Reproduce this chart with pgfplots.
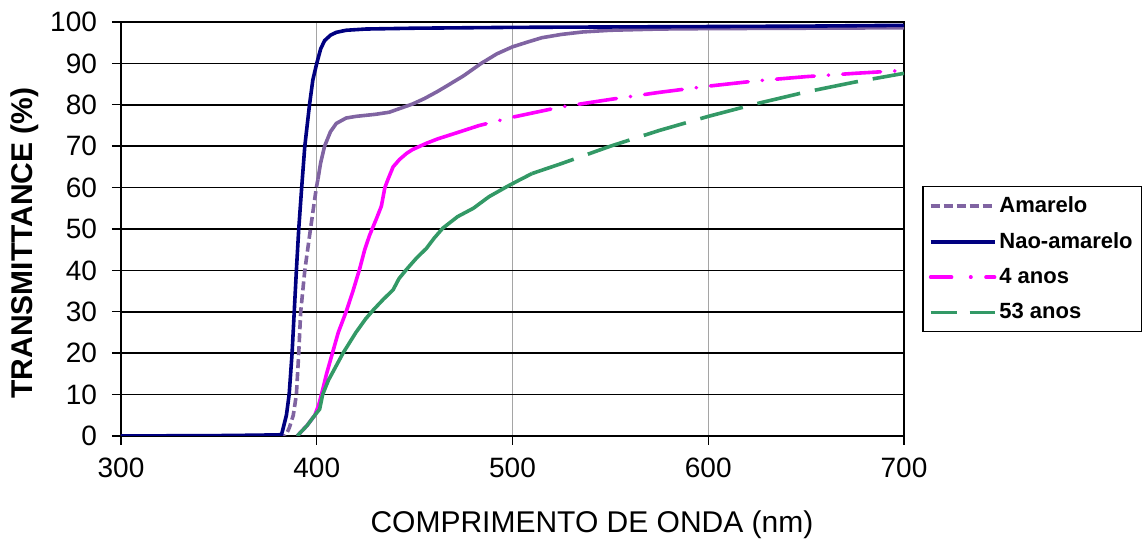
\documentclass[border=0pt]{standalone}
\usepackage{fontspec}
\setmainfont{Liberation Sans}
\usepackage{pgfplots}
\pgfplotsset{compat=1.18}
\definecolor{navyline}{RGB}{0,0,128}
\definecolor{amarelo}{RGB}{128,100,162}
\definecolor{quatro}{RGB}{255,0,255}
\definecolor{cinquenta}{RGB}{51,153,102}
\definecolor{vgrid}{RGB}{165,165,165}
\pgfplotsset{
  qleg/.style={legend image code/.code={\draw[##1, dash pattern=on 10.5pt off 9.5pt on 0.2pt off 7.5pt] (0pt,0pt) -- (32pt,0pt);}},
  cleg/.style={legend image code/.code={\draw[##1, dash pattern=on 13pt off 6.5pt] (0pt,0pt) -- (32pt,0pt);}},
}

\begin{document}
\begin{tikzpicture}
\begin{axis}[
  scale only axis,
  width=391.5pt, height=207pt,
  xmin=300, xmax=700, ymin=0, ymax=100,
  xtick={300,400,...,700},
  ytick={0,10,...,100},
  tick align=outside,
  xtick pos=bottom, ytick pos=left,
  major tick length=4.5pt,
  tick style={black, line width=0.7pt},
  axis line style={black, line width=1pt},
  xmajorgrids, ymajorgrids,
  x grid style={vgrid, line width=0.7pt},
  y grid style={black, line width=0.8pt},
  /pgf/number format/assume math mode=true,
  ticklabel style={font=\fontsize{14}{16}\selectfont},
  xticklabel style={yshift=-3pt},
  yticklabel style={xshift=-4pt},
  xlabel={COMPRIMENTO DE ONDA (nm)},
  ylabel={\bfseries TRANSMITTANCE (\%)},
  label style={font=\fontsize{15}{18}\selectfont},
  xlabel style={at={(axis description cs:0.6015,0)}, anchor=center, yshift=-44.5pt},
  ylabel style={at={(axis description cs:-0.1226,0.466)}, anchor=center},
  legend style={at={(axis description cs:1,0.4275)}, anchor=west, xshift=9pt,
    draw=black, line width=0.8pt, inner xsep=3pt, inner ysep=4pt,
    row sep=6.5pt, font=\fontsize{11}{13}\selectfont\bfseries,
    nodes={inner xsep=1.5pt, inner ysep=1pt}},
  legend cell align=left,
  legend image code/.code={\draw[#1] (0pt,0pt) -- (32pt,0pt);},
  every axis plot/.append style={line width=1.8pt},
]
% Amarelo: dashed lower part (legend) and solid upper part
\addplot[amarelo, dash pattern=on 4.5pt off 2pt] coordinates {
  (300,0)(384,0)(386,2)(388,5)(389.6,10)(390.8,20)(391.8,30)
  (393.9,40)(396.8,50)(399.8,60)(400.6,62)
};
\addlegendentry{Amarelo}
\addplot[amarelo, forget plot] coordinates {
  (400.6,62)(402,66)(404,70)(407,73.5)(410,75.5)(415,76.8)(420,77.2)
  (430,77.7)(437,78.2)(443,79.2)(449,80.2)(455,81.5)(462,83.3)(468,85)
  (475,87)(484,90)(492,92.3)(500,94)(508,95.2)(515,96.2)(525,97)
  (536,97.6)(550,98)(575,98.3)(600,98.4)(650,98.5)(700,98.6)
};
% Nao-amarelo
\addplot[navyline] coordinates {
  (300,0)(350,0.1)(370,0.2)(382,0.3)(384.5,5)(385.9,10)(387.4,20)
  (388.5,30)(389.6,40)(390.8,50)(392.3,60)(393.9,70)(396.3,80)(398,86)
  (400,90)(402,93.5)(404,95.5)(407,96.8)(410,97.5)(415,98)(425,98.3)
  (450,98.5)(500,98.7)(550,98.8)(600,98.9)(650,99)(700,99.2)
};
\addlegendentry{Nao-amarelo}
% 4 anos: solid lower part, dash-dot upper part
\addplot[quatro, forget plot] coordinates {
  (390,0)(395,2.5)(399,5)(401,7.5)(402.4,10)(405,15)(408,20)(411,25)
  (415,30)(418.5,35)(422,40.5)(424.5,45)(427,48.5)(430.5,52.5)(433,55.5)
  (434.8,60)(436.4,62)(439,65)(442.3,66.8)(446,68.3)(449,69.2)(456,70.7)
  (462,71.8)(468,72.7)
};
\addplot[quatro, dash pattern=on 19pt off 7pt on 0.2pt off 7pt, line cap=round, qleg]
  coordinates {
  (468,72.7)(483,75)(500,77)(525,79.5)(550,81.3)(575,83)(600,84.5)
  (625,85.8)(650,86.8)(675,87.6)(700,88.3)
};
\addlegendentry{4 anos}
% 53 anos: solid lower part, long dashes upper part
\addplot[cinquenta, forget plot] coordinates {
  (390,0)(395,2.5)(399,5)(401.5,6.5)(403,10)(406,13.5)(410,17)(413.4,20)
  (420,25)(425,28.3)(429,30.5)(434,33)(439,35.3)(442,38)(445.8,40.2)
  (451,43)(456,45.3)(460,47.8)(464.4,50.2)(472,53)(480,55)(488,57.8)
  (497,60.2)(503,61.7)(510,63.4)
};
\addplot[cinquenta, dash pattern=on 22pt off 7.5pt, cleg]
  coordinates {
  (510,63.4)(525,65.8)(550,70)(575,73.8)(600,77.2)(625,80.3)(650,83.1)
  (675,85.5)(700,87.6)
};
\addlegendentry{53 anos}
\end{axis}
\pgfresetboundingbox
\path ([shift={(-60.5pt,-54pt)}]current axis.south west)
  rectangle ([shift={(121pt,11pt)}]current axis.north east);
\end{tikzpicture}
\end{document}
